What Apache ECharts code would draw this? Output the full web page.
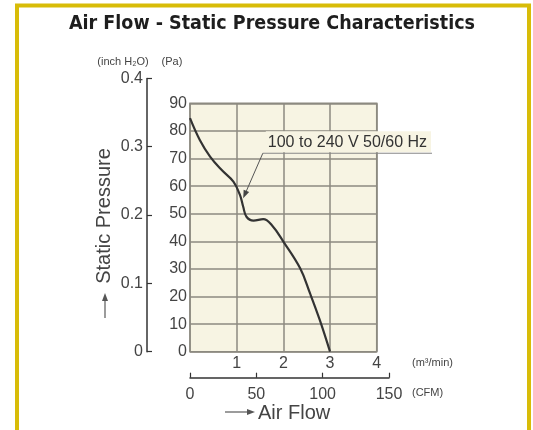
<!DOCTYPE html>
<html><head><meta charset="utf-8">
<script src="https://cdn.jsdelivr.net/npm/echarts@6/dist/echarts.min.js"></script>
<style>html,body{margin:0;padding:0;background:#fff}#c{width:533px;height:430px}</style>
</head><body><div id="c"></div>
<script>
// Data: air flow (m3/min) vs static pressure (Pa)
const flowM3 = [0, 0.21, 0.43, 0.68, 0.93, 1.07, 1.14, 1.21, 1.36, 1.57, 1.75, 2.0, 2.36, 2.57, 2.78, 3.0];
const pressurePa = [84.6, 76.7, 70.7, 65.8, 61.6, 56.8, 52.5, 48.9, 47.5, 48, 45.9, 39.9, 30.2, 21.2, 11.5, 0];
const seriesName = '100 to 240 V 50/60 Hz';
const titleText = 'Air Flow - Static Pressure Characteristics';

const chart = echarts.init(document.getElementById('c'), null, {renderer: 'canvas'});
const gridCol = '#8d8a80';
const txt = '#444';
const font = 'Liberation Sans, Arial, sans-serif';

const option = {
  animation: false,
  grid: [
    {left: 190, top: 103.3, width: 186.7, height: 248.4, show: true, backgroundColor: '#f7f4e3', borderColor: gridCol, borderWidth: 1.5},
    {left: 147, top: 78.4, width: 1, height: 273.3},
    {left: 190, top: 376.7, width: 199, height: 1}
  ],
  xAxis: [
    {gridIndex: 0, type: 'value', min: 0, max: 4, interval: 1,
     axisLine: {show: false}, axisTick: {show: false},
     splitLine: {show: true, lineStyle: {color: gridCol, width: 1.5}},
     axisLabel: {fontFamily: font, fontSize: 16, color: txt, margin: 4, formatter: v => v === 0 ? '' : String(v)}},
    {gridIndex: 1, type: 'value', show: false},
    {gridIndex: 2, type: 'value', min: 0, max: 150, interval: 50,
     axisLine: {show: true, lineStyle: {color: '#333', width: 1.5}},
     axisTick: {show: true, inside: true, length: 5, lineStyle: {color: '#333', width: 1.2}},
     splitLine: {show: false},
     axisLabel: {fontFamily: font, fontSize: 16, color: txt, margin: 9}}
  ],
  yAxis: [
    {gridIndex: 0, type: 'value', min: 0, max: 90, interval: 10,
     axisLine: {show: false}, axisTick: {show: false},
     splitLine: {show: true, lineStyle: {color: gridCol, width: 1.5}},
     axisLabel: {fontFamily: font, fontSize: 16, color: txt, margin: 3}},
    {gridIndex: 1, type: 'value', min: 0, max: 0.4, interval: 0.1,
     axisLine: {show: true, lineStyle: {color: '#333', width: 1.5}},
     axisTick: {show: true, inside: true, length: 5, lineStyle: {color: '#333', width: 1.2}},
     splitLine: {show: false},
     axisLabel: {fontFamily: font, fontSize: 16, color: txt, margin: 4}},
    {gridIndex: 2, type: 'value', show: false}
  ],
  series: [{
    name: seriesName, type: 'line', xAxisIndex: 0, yAxisIndex: 0,
    data: flowM3.map((x, i) => [x, pressurePa[i]]),
    smooth: 0.4, symbol: 'none',
    lineStyle: {color: '#333', width: 2.2}
  }]
};
chart.setOption(option);

// annotation anchored in data space
const p1 = chart.convertToPixel({gridIndex: 0}, [1.56, 71.9]);
const pArrow = chart.convertToPixel({gridIndex: 0}, [1.14, 55.6]);
const lineEndX = 432;
const ang = Math.atan2(pArrow[1] - p1[1], pArrow[0] - p1[0]);
const hl = 8, hw = 3;
const head = [
  [pArrow[0], pArrow[1]],
  [pArrow[0] - hl * Math.cos(ang) + hw * Math.sin(ang), pArrow[1] - hl * Math.sin(ang) - hw * Math.cos(ang)],
  [pArrow[0] - hl * Math.cos(ang) - hw * Math.sin(ang), pArrow[1] - hl * Math.sin(ang) + hw * Math.cos(ang)]
];

chart.setOption({
  graphic: [
    {type: 'rect', shape: {x: 17, y: 5.5, width: 512, height: 440}, style: {fill: 'none', stroke: '#d8bc08', lineWidth: 4}, z: 100},
    {type: 'text', x: 272, y: 24, style: {text: titleText, font: 'bold 19.5px "DejaVu Sans Condensed", "DejaVu Sans", sans-serif', fill: '#1e1e1e', textAlign: 'center', textVerticalAlign: 'middle'}},
    {type: 'text', x: 123, y: 62, style: {text: '(inch H₂O)', font: '11px ' + font, fill: txt, textAlign: 'center', textVerticalAlign: 'middle'}},
    {type: 'text', x: 172, y: 62, style: {text: '(Pa)', font: '11px ' + font, fill: txt, textAlign: 'center', textVerticalAlign: 'middle'}},
    {type: 'text', x: 412, y: 363, style: {text: '(m³/min)', font: '11px ' + font, fill: txt, textAlign: 'left', textVerticalAlign: 'middle'}},
    {type: 'text', x: 412, y: 393, style: {text: '(CFM)', font: '11px ' + font, fill: txt, textAlign: 'left', textVerticalAlign: 'middle'}},
    {type: 'text', x: 104, y: 216, rotation: Math.PI / 2, style: {text: 'Static Pressure', font: '20px ' + font, fill: txt, textAlign: 'center', textVerticalAlign: 'middle'}},
    {type: 'line', shape: {x1: 105, y1: 318, x2: 105, y2: 299}, style: {stroke: '#666', lineWidth: 1.3}},
    {type: 'polygon', shape: {points: [[105, 293], [102, 301], [108, 301]]}, style: {fill: '#555'}},
    {type: 'line', shape: {x1: 225, y1: 412, x2: 248, y2: 412}, style: {stroke: '#666', lineWidth: 1.3}},
    {type: 'polygon', shape: {points: [[255, 412], [247, 409], [247, 415]]}, style: {fill: '#555'}},
    {type: 'text', x: 258, y: 413, style: {text: 'Air Flow', font: '20px ' + font, fill: txt, textAlign: 'left', textVerticalAlign: 'middle'}},
    {type: 'rect', shape: {x: p1[0] + 3, y: p1[1] - 22, width: lineEndX - p1[0] - 4, height: 21}, style: {fill: '#f7f4e3'}, z: 10},
    {type: 'text', x: p1[0] + 5, y: p1[1] - 11, style: {text: seriesName, font: '16px ' + font, fill: '#333', textAlign: 'left', textVerticalAlign: 'middle'}, z: 11},
    {type: 'line', shape: {x1: p1[0], y1: p1[1], x2: lineEndX, y2: p1[1]}, style: {stroke: '#888', lineWidth: 1.2}, z: 11},
    {type: 'line', shape: {x1: p1[0], y1: p1[1], x2: (head[1][0] + head[2][0]) / 2, y2: (head[1][1] + head[2][1]) / 2}, style: {stroke: '#555', lineWidth: 1}, z: 11},
    {type: 'polygon', shape: {points: head}, style: {fill: '#444'}, z: 11}
  ]
});
</script></body></html>
